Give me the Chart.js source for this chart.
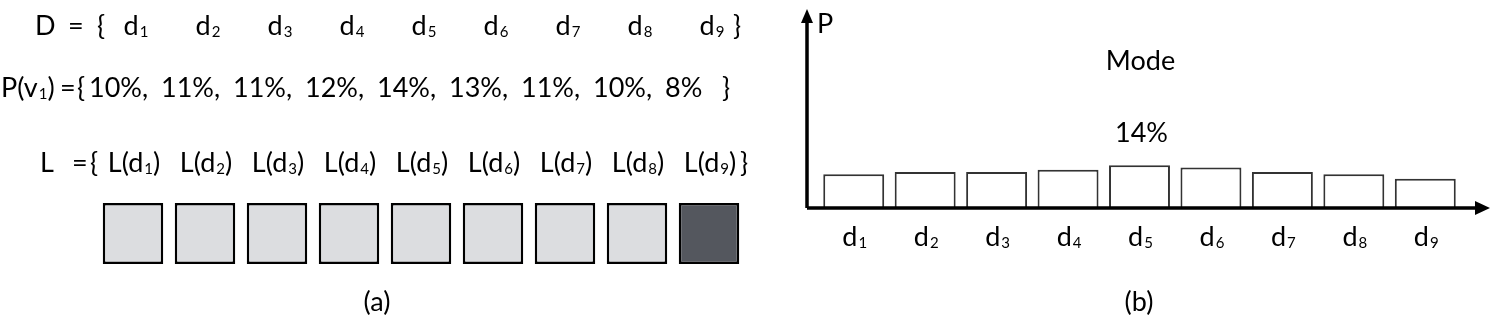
<!DOCTYPE html>
<html>
<head>
<meta charset="utf-8">
<script src="https://cdn.jsdelivr.net/npm/chart.js@4.4.1/dist/chart.umd.min.js"></script>
<style>
  body { margin: 0; background: #fff; width: 1498px; height: 328px; overflow: hidden; position: relative; }
  canvas { position: absolute; top: 0; }
  #left { left: 0; }
  #right { left: 770px; }
</style>
</head>
<body>
<canvas id="left" width="770" height="328"></canvas>
<canvas id="right" width="728" height="328"></canvas>
<script>
// data
const subs = ['1', '2', '3', '4', '5', '6', '7', '8', '9'];
const probs = [10, 11, 11, 12, 14, 13, 11, 10, 8];
const chosen = [false, false, false, false, false, false, false, false, true];
const modeLabel = 'Mode';

const FONT = 'Lato, "Open Sans", sans-serif';
const big = '27px ' + FONT;
const small = '15px ' + FONT;

// draw a list of pieces, {t, sub}, centred or left aligned at x
function drawPieces(ctx, pieces, x, y, align) {
  let total = 0;
  const widths = pieces.map(p => {
    ctx.font = p.sub ? small : big;
    const w = ctx.measureText(p.t).width + (p.sub ? 1 : 0);
    total += w;
    return w;
  });
  let cx = align === 'center' ? x - total / 2 : x;
  ctx.textAlign = 'left';
  ctx.textBaseline = 'alphabetic';
  pieces.forEach((p, i) => {
    ctx.font = p.sub ? small : big;
    ctx.fillText(p.t, p.sub ? cx + 1 : cx, p.sub ? y + 2 : y);
    cx += widths[i];
  });
}

function txt(ctx, s, x, y, align) {
  ctx.font = big;
  ctx.textAlign = align || 'left';
  ctx.textBaseline = 'alphabetic';
  ctx.fillText(s, x, y);
}

const leftText = {
  id: 'leftText',
  afterDraw(chart) {
    const ctx = chart.ctx;
    const xs = chart.scales.x;
    ctx.save();
    ctx.fillStyle = '#000';

    // row D
    txt(ctx, 'D', 35, 35);
    txt(ctx, '=', 68, 35);
    txt(ctx, '{', 97, 35);
    subs.forEach((s, i) => {
      drawPieces(ctx, [{ t: 'd' }, { t: s, sub: true }], xs.getPixelForValue(i) + 3, 35, 'center');
    });
    txt(ctx, '}', 733, 35);

    // row P(v1)
    drawPieces(ctx, [{ t: 'P(v' }, { t: '1', sub: true }, { t: ')' }], 1, 97, 'left');
    txt(ctx, '=', 60, 97);
    txt(ctx, '{', 77, 97);
    probs.forEach((v, i) => {
      const s = v + '%' + (i < probs.length - 1 ? ',' : '');
      txt(ctx, s, xs.getPixelForValue(i) - 44, 97);
    });
    txt(ctx, '}', 722, 97);

    // row L
    txt(ctx, 'L', 40, 172);
    txt(ctx, '=', 72, 172);
    txt(ctx, '{', 90, 172);
    subs.forEach((s, i) => {
      drawPieces(ctx, [{ t: 'L(d' }, { t: s, sub: true }, { t: ')' }], xs.getPixelForValue(i) + 1, 172, 'center');
    });
    txt(ctx, '}', 740, 172);

    txt(ctx, '(a)', 377, 311, 'center');
    ctx.restore();
  }
};

new Chart(document.getElementById('left'), {
  type: 'bar',
  data: {
    labels: subs.map(s => 'L(d' + s + ')'),
    datasets: [{
      data: chosen.map(() => 1),
      backgroundColor: chosen.map(c => c ? '#54575e' : '#dcdde0'),
      borderColor: '#000',
      borderWidth: 2.5,
      borderSkipped: false,
      barPercentage: 0.84,
      categoryPercentage: 1
    }]
  },
  options: {
    responsive: false,
    animation: false,
    layout: { padding: { left: 97, right: 25, top: 203, bottom: 64 } },
    plugins: { legend: { display: false }, tooltip: { enabled: false } },
    scales: {
      x: { display: false },
      y: { display: false, min: 0, max: 1 }
    }
  },
  plugins: [leftText]
});

const rightAxes = {
  id: 'rightAxes',
  afterDraw(chart) {
    const ctx = chart.ctx;
    const xs = chart.scales.x;
    const a = chart.chartArea;
    const ax = 37, ay = a.bottom;
    ctx.save();
    ctx.strokeStyle = '#000';
    ctx.fillStyle = '#000';
    ctx.lineWidth = 3.5;
    ctx.beginPath();
    ctx.moveTo(ax, ay);
    ctx.lineTo(ax, 20);
    ctx.moveTo(ax, ay);
    ctx.lineTo(708, ay);
    ctx.stroke();
    // arrow heads
    ctx.beginPath();
    ctx.moveTo(ax, 9);
    ctx.lineTo(ax - 6, 23);
    ctx.lineTo(ax + 6, 23);
    ctx.closePath();
    ctx.fill();
    ctx.beginPath();
    ctx.moveTo(720, ay);
    ctx.lineTo(705, ay - 7);
    ctx.lineTo(705, ay + 7);
    ctx.closePath();
    ctx.fill();

    txt(ctx, 'P', 47, 33);

    subs.forEach((s, i) => {
      drawPieces(ctx, [{ t: 'd' }, { t: s, sub: true }], xs.getPixelForValue(i) + 1, 246, 'center');
    });

    const m = probs.indexOf(Math.max(...probs));
    const mx = xs.getPixelForValue(m);
    txt(ctx, modeLabel, mx + 1, 70, 'center');
    txt(ctx, probs[m] + '%', mx + 2, 142, 'center');

    txt(ctx, '(b)', 369, 311, 'center');
    ctx.restore();
  }
};

new Chart(document.getElementById('right'), {
  type: 'bar',
  data: {
    labels: subs.map(s => 'd' + s),
    datasets: [{
      data: probs,
      base: -5,
      backgroundColor: '#fff',
      borderColor: '#333',
      borderWidth: 2,
      barPercentage: 0.853,
      categoryPercentage: 1
    }]
  },
  options: {
    responsive: false,
    animation: false,
    layout: { padding: { left: 48, right: 37, top: 12, bottom: 120 } },
    plugins: { legend: { display: false }, tooltip: { enabled: false } },
    scales: {
      x: { display: false },
      y: { display: false, min: -5, max: 82 }
    }
  },
  plugins: [rightAxes]
});
</script>
</body>
</html>
